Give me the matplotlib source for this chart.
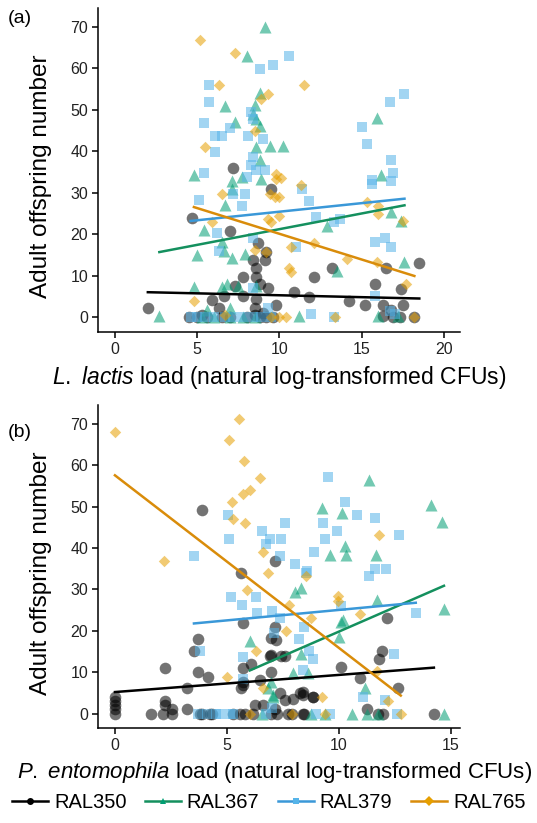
import numpy as np
import matplotlib
matplotlib.use("Agg")
import matplotlib.pyplot as plt
from matplotlib.lines import Line2D

plt.rcParams['font.family'] = ['Liberation Sans', 'DejaVu Sans']
plt.rcParams['mathtext.fontset'] = 'custom'
plt.rcParams['mathtext.rm'] = 'Liberation Sans'
plt.rcParams['mathtext.it'] = 'Liberation Sans:italic'

strains = ["RAL350", "RAL367", "RAL379", "RAL765"]
point_colors = ["black", "#009E73", "#56B4E9", "#E69F00"]
line_colors = ["black", "#14905e", "#3a98d8", "#d98c0a"]
markers = ["o", "^", "s", "D"]
marker_sizes = [70, 75, 62, 34]

# ---- (a) L. lactis load ----
lac_350_x = [7.2, 9.5, 4.7, 7.0, 8.7, 8.4, 9.1, 9.2, 8.6, 7.8, 8.6, 7.3, 8.8, 9.3, 6.6, 5.9, 7.8,
             10.9, 11.8, 12.1, 13.2, 2.0, 6.3, 8.5, 9.8, 8.6, 4.5, 5.0, 5.3, 5.6, 6.5, 7.0, 8.0,
             8.5, 8.8, 9.0, 9.2, 9.6, 18.5, 16.5, 15.8, 17.4, 14.2, 15.2, 16.3, 17.5, 16.8, 16.3,
             16.9, 17.3, 18.2]
lac_350_y = [36.0, 30.9, 24.0, 20.8, 17.9, 13.8, 13.8, 15.8, 11.8, 9.7, 9.7, 7.5, 8.1, 7.1, 5.1,
             4.1, 5.2, 6.0, 4.9, 9.8, 11.8, 2.1, 2.3, 2.3, 2.9, 4.3, 0, 0, 0.5, 0, 0, 0, 0, 0.5,
             0, 1, 0, 0, 13.0, 11.8, 7.9, 6.8, 3.9, 2.9, 2.9, 2.9, 1.7, 0.2, 0, 0, 0]

lac_367_x = [9.1, 8.0, 8.8, 6.7, 8.5, 8.4, 8.6, 7.3, 8.8, 8.6, 9.4, 10.2, 8.8, 4.8, 7.1, 7.7, 8.9,
             7.1, 15.9, 16.2, 12.9, 16.8, 17.4, 17.6, 13.5, 11.2, 16.0, 17.2, 6.7, 5.4, 6.5, 5.0,
             6.6, 7.1, 7.9, 4.8, 6.5, 6.8, 7.5, 8.6, 2.7, 5.3, 6.0, 7.0, 7.8, 8.5, 7.0, 5.6]
lac_367_y = [70.0, 63.0, 54.1, 51.0, 51.1, 49.1, 47.9, 47.1, 46.0, 41.0, 41.2, 41.2, 37.8, 34.3,
             32.9, 33.8, 33.3, 30.9, 48.1, 34.3, 22.1, 25.4, 23.3, 13.2, 11.1, 0.3, 0.3, 0.3,
             27.1, 21.0, 18.2, 15.0, 16.0, 14.2, 15.2, 7.3, 7.3, 8.1, 7.5, 7.6, 0.3, 0, 0, 0, 0,
             0, 2.3, 1.7]

lac_379_x = [10.6, 9.6, 8.8, 5.7, 5.7, 5.4, 7.0, 6.1, 6.5, 8.1, 9.0, 8.3, 8.4, 6.1, 8.4, 8.3, 8.6,
             9.1, 5.4, 8.0, 7.9, 7.2, 11.4, 5.1, 17.6, 16.7, 15.0, 15.3, 16.8, 16.9, 15.6, 15.6,
             16.8, 11.8, 15.8, 16.4, 16.8, 12.2, 13.3, 13.7, 15.8, 11.9, 13.3, 17.0, 16.7, 7.7,
             6.2, 6.3, 8.4, 11.0, 8.4, 9.3, 4.6, 5.0, 5.5, 6.0, 6.7, 7.2, 7.8, 8.4, 8.9, 9.5]
lac_379_y = [62.9, 60.9, 59.8, 55.9, 51.9, 46.9, 45.7, 43.8, 43.8, 43.8, 43.0, 49.5, 47.9, 39.8,
             38.6, 36.8, 35.6, 35.6, 34.8, 33.7, 29.8, 29.7, 30.9, 28.3, 53.7, 51.9, 45.8, 41.8,
             37.9, 34.8, 33.0, 32.1, 32.9, 28.1, 18.2, 19.0, 17.0, 24.1, 22.9, 23.7, 5.1, 0.8,
             0, 0.7, 1.5, 26.9, 20.2, 16.0, 19.0, 17.0, 7.1, 2.3, 0, 0, 0, 0, 0, 0, 0, 0, 0, 0]

lac_765_x = [5.2, 7.3, 6.3, 9.3, 8.9, 11.5, 8.5, 5.5, 9.8, 10.1, 9.8, 11.3, 6.5, 9.4, 9.7, 10.0,
             5.9, 9.3, 9.5, 10.0, 8.5, 9.2, 10.7, 10.6, 10.7, 4.8, 6.7, 9.5, 10.0, 10.4, 15.3,
             16.0, 16.0, 17.5, 12.1, 14.1, 15.9, 17.7, 13.4, 18.2]
lac_765_y = [66.8, 63.8, 55.9, 53.9, 52.7, 55.9, 44.8, 41.0, 34.6, 33.6, 33.4, 31.9, 29.8, 29.7,
             28.9, 28.9, 22.9, 23.7, 22.9, 24.3, 16.2, 15.8, 17.0, 11.8, 11.0, 3.9, 0.5, 0, 0,
             0, 27.7, 26.9, 24.9, 23.3, 17.8, 14.0, 13.2, 7.9, 0, 0]

lac_slope = [-0.092, 0.757, 0.413, -1.24]
lac_intercept = [6.2, 13.65, 21.3, 32.5]

# ---- (b) P. entomophila load ----
pen_350_x = [3.91, 5.65, 7.17, 3.72, 3.53, 2.23, 3.2, 3.72, 4.17, 2.23, 2.23, 2.57, 3.2, 0, 0, 0,
             0, 0, 1.6, 2.16, 2.57, 3.87, 4.32, 5.28, 5.8, 6.17, 6.99, 7.89, 8.4, 5.73, 6.1, 6.92,
             7.4, 5.73, 6.99, 7.14, 6.47, 7.37, 7.96, 8.4, 6.25, 6.62, 7.14, 5.73, 7.19, 6.95,
             7.59, 6.95, 10.12, 5.62, 5.73, 7.59, 8.26, 8.83, 7.22, 7.74, 12.16, 11.95, 11.8,
             10.97, 12.65, 8.4, 8.83, 11.24, 8.43, 11.76, 11.98, 14.25, 5.58, 3.79, 4.24]
pen_350_y = [49.1, 34.0, 37.0, 18.0, 15.1, 11.1, 6.1, 10.1, 8.9, 3.1, 2.0, 1.2, 1.2, 4, 3, 2, 1,
             0, 0, 0, 0, 0, 0, 0, 0, 0, 0, 0, 0, 10.9, 12.1, 13.9, 13.9, 21.8, 18.2, 21.0, 8.1,
             5.0, 3.4, 4.4, 2.0, 2.0, 1.2, 6.9, 17.8, 14.2, 13.9, 10.1, 11.2, 6.1, 7.7, 3.2, 4.9,
             3.9, 0, 0, 23.1, 15.1, 13.1, 8.7, 6.1, 5.2, 4.0, 1.0, 0, 0, 0, 0, 0, 0, 0]

pen_367_x = [11.34, 14.14, 14.6, 9.27, 10.16, 10.27, 9.6, 10.34, 11.65, 8.33, 11.7, 14.7, 10.1,
             10.0, 11.16, 10.57, 11.24, 11.76, 14.7, 8.04, 10.2, 6.03, 8.33, 7.96, 8.63, 6.95,
             7.07, 8.74, 9.4, 6.84, 7.04, 6.59]
pen_367_y = [56.5, 50.4, 46.4, 49.6, 48.4, 40.4, 38.4, 38.4, 38.4, 30.3, 27.4, 25.3, 22.2, 18.6,
             6.1, 0, 0, 0, 0, 29.5, 22.6, 17.6, 14.4, 9.7, 9.7, 7.7, 3.9, 0, 0, 6.1, 4.4, 0]

pen_379_x = [5.03, 7.62, 6.55, 6.92, 7.44, 5.1, 6.77, 3.53, 7.37, 8.04, 8.53, 5.17, 6.28, 9.52,
             10.3, 10.8, 11.6, 9.3, 9.9, 9.4, 12.7, 8.9, 11.6, 12.1, 11.35, 8.6, 10.1, 6.35, 7.0,
             7.37, 7.1, 8.23, 8.44, 8.68, 8.85, 3.79, 5.73, 8.4, 4.69, 5.13, 5.27, 6.77, 9.6, 9.0,
             5.66, 5.73, 3.7, 4.1, 4.5, 7.0, 13.44, 12.46, 11.1, 12.05, 12.6]
pen_379_y = [48.1, 46.1, 44.1, 42.1, 42.1, 42.1, 41.1, 38.2, 38.2, 36.2, 34.0, 28.2, 28.2, 57.2,
             51.1, 48.1, 47.2, 46.1, 44.1, 42.1, 43.1, 39.1, 35.0, 35.0, 33.2, 34.5, 25.9, 24.4,
             24.9, 23.1, 19.4, 18.0, 21.0, 15.1, 13.3, 15.1, 8.3, 10.5, 0, 0, 0, 0, 0, 0, 26.3,
             13.7, 0, 0, 0, 1.3, 24.3, 14.4, 4.0, 3.2, 0]

pen_765_x = [0, 5.54, 5.09, 5.76, 6.47, 5.7, 6.03, 5.24, 5.28, 5.8, 2.19, 6.62, 6.86, 5.9, 7.78,
             8.53, 11.8, 9.97, 9.97, 8.78, 7.63, 6.32, 5.01, 6.62, 9.25, 6.03, 7.93, 9.38, 10.97,
             11.7, 12.2, 12.77]
pen_765_y = [68.1, 71.2, 66.1, 61.1, 57.0, 53.0, 54.0, 51.1, 47.1, 46.1, 37.0, 39.0, 34.0, 29.9,
             26.3, 33.2, 43.1, 28.3, 27.1, 23.1, 20.0, 15.1, 8.9, 6.1, 4.0, 0, 0, 0, 24.1, 10.3,
             3.1, 0]

pen_slope = [0.414, 2.36, 0.505, -4.17]
pen_intercept = [5.2, -3.8, 20.0, 57.6]

lac_x = [lac_350_x, lac_367_x, lac_379_x, lac_765_x]
lac_y = [lac_350_y, lac_367_y, lac_379_y, lac_765_y]
pen_x = [pen_350_x, pen_367_x, pen_379_x, pen_765_x]
pen_y = [pen_350_y, pen_367_y, pen_379_y, pen_765_y]

fig = plt.figure(figsize=(5.37, 8.23), dpi=100)
ax_a = fig.add_axes([0.1834, 0.597, 0.674, 0.393])
ax_b = fig.add_axes([0.1834, 0.1154, 0.674, 0.392])


def draw_panel(ax, xs, ys, slopes, intercepts, xlim, xticks):
    for i in range(4):
        ax.scatter(xs[i], ys[i], s=marker_sizes[i], marker=markers[i], color=point_colors[i],
                   alpha=0.55, linewidths=0, zorder=2)
    for i in range(4):
        xr = np.array([min(xs[i]), max(xs[i])])
        ax.plot(xr, intercepts[i] + slopes[i] * xr, color=line_colors[i], lw=1.8, zorder=3)
    ax.set_xlim(*xlim)
    ax.set_ylim(-3.5, 74.5)
    ax.set_xticks(xticks)
    ax.set_yticks(range(0, 71, 10))
    for side in ["top", "right"]:
        ax.spines[side].set_visible(False)
    for side in ["left", "bottom"]:
        ax.spines[side].set_linewidth(1.1)
    ax.tick_params(labelsize=11.5, length=4, width=1.1, colors="black", labelcolor="#222222")
    ax.set_ylabel("Adult offspring number", fontsize=17.5, labelpad=4)
    ax.yaxis.set_label_coords(-0.128, 0.48)


draw_panel(ax_a, lac_x, lac_y, lac_slope, lac_intercept, (-1, 21), [0, 5, 10, 15, 20])
draw_panel(ax_b, pen_x, pen_y, pen_slope, pen_intercept, (-0.735, 15.435), [0, 5, 10, 15])

ax_a.set_xlabel(r"$\it{L.}$ $\it{lactis}$ load (natural log-transformed CFUs)", fontsize=16.5, labelpad=5)
ax_b.set_xlabel(r"$\it{P.}$ $\it{entomophila}$ load (natural log-transformed CFUs)", fontsize=16, labelpad=5)
ax_a.xaxis.label.set_x(0.5)
ax_b.xaxis.label.set_x(0.485)

fig.text(0.015, 0.977, "(a)", fontsize=14, va="center")
fig.text(0.015, 0.475, "(b)", fontsize=14, va="center")

handles = [Line2D([0], [0], color=line_colors[i], lw=1.8, marker=markers[i], markersize=5,
                  markerfacecolor=point_colors[i], markeredgewidth=0, alpha=1)
           for i in range(4)]
fig.legend(handles, strains, loc="center", bbox_to_anchor=(0.5, 0.025), ncol=4, frameon=False,
           fontsize=14.5, handlelength=1.8, handletextpad=0.3, columnspacing=0.9)

fig.savefig("out.png", dpi=100)
